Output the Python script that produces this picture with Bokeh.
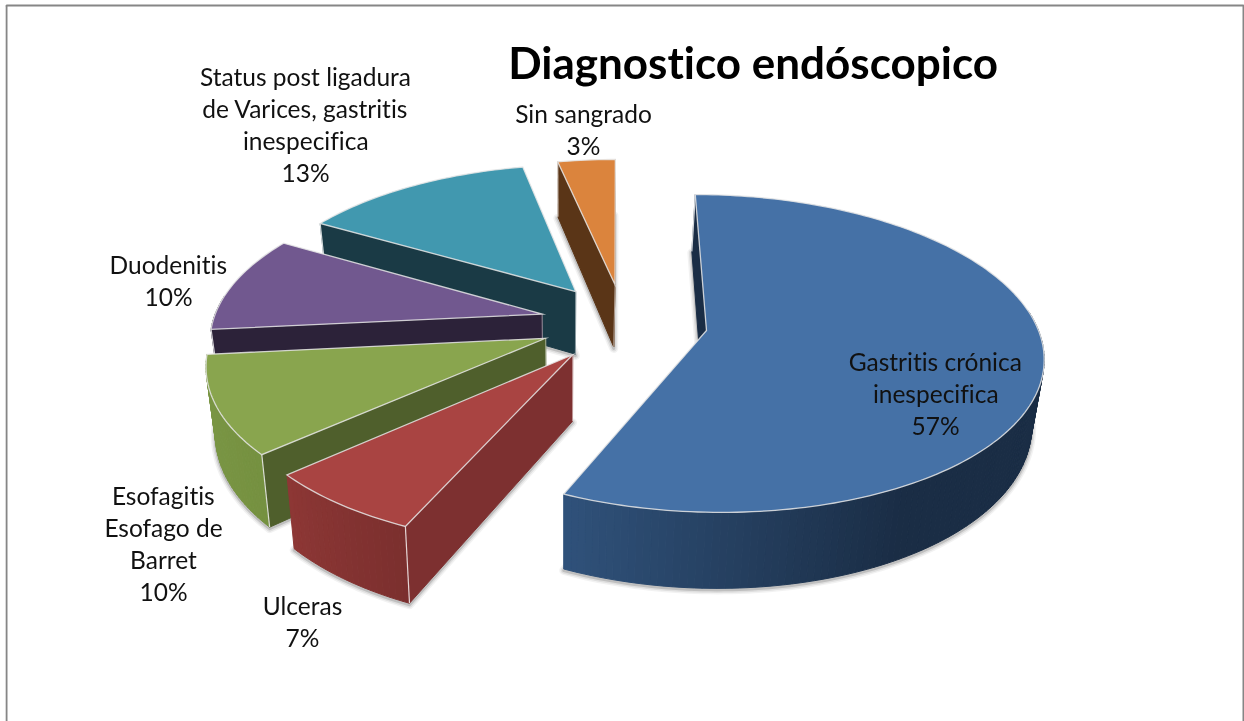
import math
from bokeh.plotting import figure
from bokeh.models import Range1d
from bokeh.core.properties import value
from bokeh.embed import file_html
from bokeh.resources import INLINE

# ---- data ----
title = "Diagnostico endóscopico"
categories = ["Gastritis crónica\ninespecifica", "Ulceras", "Esofagitis\nEsofago de\nBarret",
              "Duodenitis", "Status post ligadura\nde Varices, gastritis\ninespecifica", "Sin sangrado"]
percents = [56.7, 6.7, 10.0, 10.0, 13.3, 3.3]

# ---- styles ----
top_colors = ["#4571a6", "#a94442", "#89a54e", "#71588f", "#4198af", "#db843d"]
rim_light = ["#30527b", "#8d3735", "#7a9644", "#2c2239", "#1a3a45", "#5a3517"]
rim_dark = ["#1a2d45", "#7b2f2e", "#718c3d", "#2c2239", "#1a3a45", "#5a3517"]
face_colors = ["#1a2d45", "#7d3030", "#4f5f2c", "#2c2239", "#1a3a45", "#5a3517"]
label_centers = [(935, 361), (302, 605), (163, 495), (168, 264), (305, 76), (583, 113)]
FONT = "Lato"
LINE_H = 32

# ---- perspective model of the 3-D pie (pixels) ----
XV, YH, D0 = 617.0, -746.0, 1076.0   # vanishing point and depth scale
K, R, U0 = 0.1446, 332.0, 89.0
HEIGHT, XN, CONV = 65.0, 563.0, 0.026
EXPLODE = 0.255


def hexmix(a, b, t):
    ca = [int(a[i:i + 2], 16) for i in (1, 3, 5)]
    cb = [int(b[i:i + 2], 16) for i in (1, 3, 5)]
    return "#%02x%02x%02x" % tuple(round(x + (y - x) * t) for x, y in zip(ca, cb))


def project(u, v, low=False):
    w = 1 - K * v
    x = XV + (U0 + R * u) / w
    y = YH + D0 / w
    if low:
        x += (XN - x) * CONV
        y += HEIGHT / w
    return x, y


def clip01(t):
    return min(1.0, max(0.0, t))


# slices, clockwise from twelve o'clock
total = sum(percents)
spans, acc = [], 0.0
for val in percents:
    a0 = acc / total * 2 * math.pi
    acc += val
    spans.append((a0, acc / total * 2 * math.pi))

# pie centre on the ground plane: first slice's apex is the origin
m0 = sum(spans[0]) / 2
CU, CV = -EXPLODE * math.sin(m0), EXPLODE * math.cos(m0)

p = figure(width=1244, height=721, output_backend="svg", toolbar_location=None,
           x_range=Range1d(0, 1244), y_range=Range1d(721, 0),
           min_border=0, outline_line_color=None, background_fill_color="white",
           styles={"position": "fixed", "left": "0px", "top": "0px",
                   "font-variant-ligatures": "none"})
p.axis.visible = False
p.grid.visible = False

# frame, its lower edge lies below the visible page
p.quad(left=[6], right=[1243], top=[5], bottom=[740], fill_color=None, line_color="#868686", line_width=2)
p.line([5, 5], [6, 721], line_color="#d9d9d9", line_width=1)

draw_order = [5, 4, 3, 0, 2, 1]

for i in draw_order:
    a0, a1 = spans[i]
    mid = (a0 + a1) / 2
    au = CU + EXPLODE * math.sin(mid)
    av = CV - EXPLODE * math.cos(mid)
    n = max(2, int((a1 - a0) / 0.02))
    thetas = [a0 + (a1 - a0) * j / n for j in range(n + 1)]
    gu = [au + math.sin(t) for t in thetas]
    gv = [av - math.cos(t) for t in thetas]
    top_arc = [project(u, v) for u, v in zip(gu, gv)]
    low_arc = [project(u, v, True) for u, v in zip(gu, gv)]
    apex_t = project(au, av)
    apex_l = project(au, av, True)

    # soft shadow around the base
    bx = [apex_l[0]] + [q[0] for q in low_arc]
    by = [apex_l[1]] + [q[1] for q in low_arc]
    for lw, alpha in ((9, 0.05), (6, 0.08), (3, 0.14)):
        p.patches([bx], [[y + 1.5 for y in by]], fill_color=None, line_color="black",
                  line_alpha=alpha, line_width=lw, line_join="round")

    # outer wall, one facet per step with its own shade
    xs, ys, cols = [], [], []
    for j in range(n):
        tm = (thetas[j] + thetas[j + 1]) / 2
        if -math.cos(tm) < -0.12:
            continue
        nx = math.sin(tm)
        if i == 0:
            shade = clip01((nx + 0.42) / 0.9)
        elif i == 2:
            shade = clip01((nx + 1.0) / 0.45)
        else:
            shade = (a1 - tm) / (a1 - a0)
        xs.append([top_arc[j][0], top_arc[j + 1][0], low_arc[j + 1][0], low_arc[j][0]])
        ys.append([top_arc[j][1], top_arc[j + 1][1], low_arc[j + 1][1], low_arc[j][1]])
        cols.append(hexmix(rim_light[i], rim_dark[i], shade))
    if xs:
        p.patches(xs, ys, fill_color=cols, line_color=cols, line_width=1)

    # flat cut faces that look towards the viewer
    mid_pt = top_arc[n // 2]
    for end, low_end in ((top_arc[0], low_arc[0]), (top_arc[-1], low_arc[-1])):
        ex, ey = end[0] - apex_t[0], end[1] - apex_t[1]
        inside = ex * (mid_pt[1] - apex_t[1]) - ey * (mid_pt[0] - apex_t[0])
        if ex * inside >= 0:
            continue
        p.patches([[apex_t[0], end[0], low_end[0], apex_l[0]]],
                  [[apex_t[1], end[1], low_end[1], apex_l[1]]],
                  fill_color=face_colors[i], line_color=face_colors[i], line_width=1)
        p.line([end[0], low_end[0]], [end[1], low_end[1]], line_color="white", line_alpha=0.8, line_width=1.2)
        p.line([apex_t[0], apex_l[0]], [apex_t[1], apex_l[1]], line_color="white", line_alpha=0.5, line_width=1)

    # top face
    tx = [apex_t[0]] + [q[0] for q in top_arc]
    ty = [apex_t[1]] + [q[1] for q in top_arc]
    p.patches([tx], [ty], fill_color=top_colors[i], line_color="#e6e6e6", line_alpha=0.85,
              line_width=1.3, line_join="miter")

# labels
for name, val, (cx, cy) in zip(categories, percents, label_centers):
    lines = name.split("\n") + [f"{round(val)}%"]
    p.text(x=[cx] * len(lines), y=[cy + LINE_H * k for k in range(len(lines))], text=lines,
           text_font=value(FONT), text_font_size="24.5px", text_color="#111111",
           text_align="center", text_baseline="middle")

p.text(x=[753], y=[61.5], text=[title], text_font=value(FONT), text_font_style="bold",
       text_font_size="44px", text_color="black", text_align="center", text_baseline="middle")

open("out.html", "w").write(file_html(p, INLINE))
